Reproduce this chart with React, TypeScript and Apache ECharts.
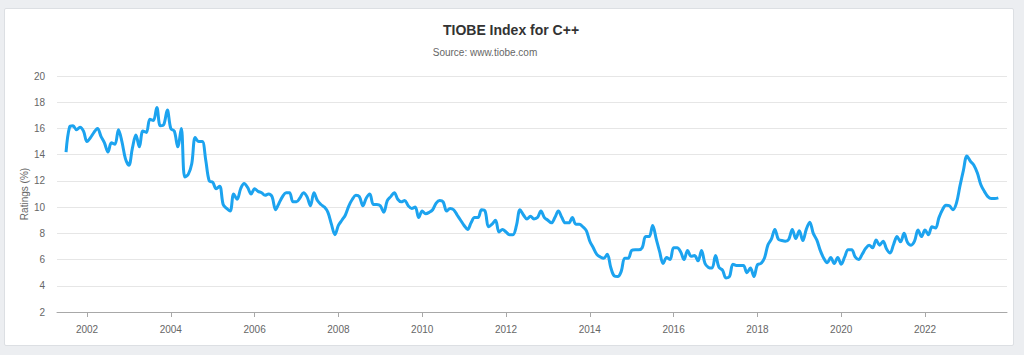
import React, { useEffect, useRef } from "react";
import * as echarts from "echarts";

// Monthly TIOBE ratings (%) for C++, starting July 2001
const firstYear = 2001;
const firstMonth = 7;
const ratings: number[] = [
  // 2001 (Jul-Dec)
  14.2, 16.1, 16.2, 15.9, 16.1, 15.8,
  // 2002
  15.0, 15.3, 15.7, 16.0, 15.4, 14.9, 14.2, 14.9, 14.8, 15.9, 15.0, 13.7,
  // 2003
  13.2, 14.5, 15.5, 14.6, 15.8, 15.7, 16.7, 16.6, 17.6, 16.2, 16.3, 17.4,
  // 2004
  16.0, 15.8, 14.6, 16.0, 12.3, 12.5, 13.3, 15.3, 15.0, 15.0, 13.6, 12.0,
  // 2005
  11.9, 11.4, 11.6, 10.2, 9.9, 9.7, 11.0, 10.6, 11.4, 11.8, 11.5, 11.0,
  // 2006
  11.4, 11.2, 11.1, 10.9, 11.0, 10.8, 9.8, 10.3, 10.8, 11.1, 11.1, 10.4,
  // 2007
  10.4, 10.7, 11.1, 10.8, 10.1, 11.1, 10.5, 10.2, 10.0, 9.6, 8.7, 7.9,
  // 2008
  8.6, 9.0, 9.4, 10.1, 10.6, 10.9, 10.8, 10.1, 10.7, 11.0, 10.2, 10.2,
  // 2009
  10.1, 9.6, 10.5, 10.8, 11.1, 10.6, 10.4, 10.5, 10.1, 9.9, 10.0, 9.2,
  // 2010
  9.7, 9.5, 9.6, 9.8, 10.3, 10.5, 10.4, 9.7, 9.9, 9.8, 9.4, 9.0,
  // 2011
  8.6, 8.3, 8.8, 9.2, 9.2, 9.8, 9.7, 8.5, 8.7, 9.0, 8.1, 8.3,
  // 2012
  8.1, 7.9, 7.9, 8.6, 9.8, 9.4, 9.1, 9.3, 9.1, 9.2, 9.7, 9.2,
  // 2013
  9.0, 8.8, 9.2, 9.7, 9.2, 8.8, 8.8, 9.2, 8.7, 8.7, 8.5, 8.2,
  // 2014
  7.4, 6.9, 6.4, 6.2, 6.1, 6.4, 5.4, 4.75, 4.7, 5.1, 6.1, 6.1,
  // 2015
  6.7, 6.75, 6.75, 6.9, 7.75, 7.75, 8.6, 7.6, 6.6, 5.7, 6.15, 6.0,
  // 2016
  6.9, 6.9, 6.6, 6.0, 6.7, 6.25, 6.3, 5.9, 6.7, 5.7, 5.4, 5.35,
  // 2017
  6.3, 5.4, 5.2, 4.6, 4.7, 5.65, 5.55, 5.55, 5.55, 5.0, 5.35, 4.7,
  // 2018
  5.6, 5.7, 6.1, 7.1, 7.55, 8.3, 7.55, 7.45, 7.4, 7.55, 8.3, 7.6,
  // 2019
  8.2, 7.45, 8.3, 8.85, 8.0, 7.5, 6.7, 6.1, 5.75, 6.15, 5.7, 6.15,
  // 2020
  5.65, 6.2, 6.75, 6.75, 6.2, 6.0, 6.4, 6.85, 7.1, 6.9, 7.5, 7.1,
  // 2021
  7.4, 6.8, 6.5, 7.15, 7.75, 7.35, 8.0, 7.3, 7.1, 7.4, 8.25, 7.75,
  // 2022
  8.25, 7.9, 8.5, 8.4, 9.2, 9.8, 10.15, 10.1, 9.8, 10.3, 11.6, 12.8,
  // 2023 (Jan-Oct)
  13.9, 13.5, 13.2, 12.6, 11.7, 11.2, 10.8, 10.65, 10.65, 10.7,
];

const yearTicks = [2002, 2004, 2006, 2008, 2010, 2012, 2014, 2016, 2018, 2020, 2022];
const xMin = 2001.284;
const xMax = 2023.957;
const yMin = 2;
const yMax = 20;
const yStep = 2;

const titleText = "TIOBE Index for C++";
const subtitleText = "Source: www.tiobe.com";
const yAxisName = "Ratings (%)";

const FONT = "'Liberation Sans', Arial, Helvetica, sans-serif";

export default function App() {
  const ref = useRef<HTMLDivElement>(null);

  useEffect(() => {
    if (!ref.current) return;
    const chart = echarts.init(ref.current, undefined, { renderer: "svg" });
    const data = ratings.map((v, i) => [firstYear + (firstMonth - 1 + i) / 12, v]);

    chart.setOption({
      animation: false,
      textStyle: { fontFamily: FONT },
      grid: { left: 57, right: 17, top: 76, bottom: 43, containLabel: false, outerBoundsMode: "none" },
      graphic: [
        {
          type: "text",
          x: 511,
          y: 30,
          style: {
            text: titleText,
            fill: "#333333",
            font: `bold 14px ${FONT}`,
            textAlign: "center",
            textVerticalAlign: "middle",
          },
        },
        {
          type: "text",
          x: 485,
          y: 52,
          style: {
            text: subtitleText,
            fill: "#666666",
            font: `10px ${FONT}`,
            textAlign: "center",
            textVerticalAlign: "middle",
          },
        },
      ],
      xAxis: {
        type: "value",
        min: xMin,
        max: xMax,
        axisLine: { show: true, lineStyle: { color: "#a8a8a8", width: 1 } },
        axisTick: { show: true, customValues: yearTicks, length: 5, lineStyle: { color: "#a8a8a8" } },
        axisLabel: {
          customValues: yearTicks,
          formatter: (v: number) => String(Math.round(v)),
          color: "#666666",
          fontSize: 10,
          margin: 12,
          fontFamily: FONT,
        },
        splitLine: { show: false },
      },
      yAxis: {
        type: "value",
        min: yMin,
        max: yMax,
        interval: yStep,
        name: yAxisName,
        nameLocation: "middle",
        nameRotate: 90,
        nameGap: 28,
        nameMoveOverlap: false,
        nameTextStyle: { color: "#666666", fontSize: 10, fontFamily: FONT },
        axisLine: { show: false },
        axisTick: { show: false },
        axisLabel: { color: "#666666", fontSize: 10, margin: 12, fontFamily: FONT },
        splitLine: { show: true, lineStyle: { color: "#e6e6e6", width: 1 } },
      },
      series: [
        {
          type: "line",
          data,
          showSymbol: false,
          smooth: 0.35,
          lineStyle: { color: "#1ca3ef", width: 3 },
          itemStyle: { color: "#1ca3ef" },
        },
      ],
    });

    return () => chart.dispose();
  }, []);

  return (
    <div
      style={{
        position: "absolute",
        left: 0,
        top: 0,
        width: 1024,
        height: 355,
        background: "#eceef1",
        overflow: "hidden",
      }}
    >
      <div
        style={{
          position: "absolute",
          left: 4,
          top: 8,
          width: 1008,
          height: 336,
          background: "#ffffff",
          border: "1px solid #dcdfe3",
          borderRadius: 2,
        }}
      />
      <div ref={ref} style={{ position: "absolute", left: 0, top: 0, width: 1024, height: 355 }} />
    </div>
  );
}
